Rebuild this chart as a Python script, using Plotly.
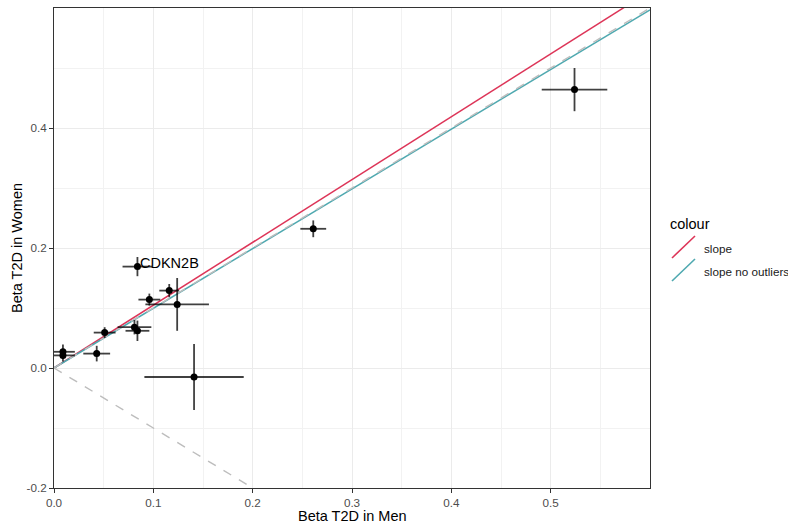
import plotly.graph_objects as go

# ---- data ----
beta_men = [0.524, 0.261, 0.084, 0.096, 0.116, 0.124, 0.051, 0.081, 0.084, 0.043, 0.009, 0.009, 0.141]
beta_women = [0.464, 0.232, 0.169, 0.114, 0.129, 0.106, 0.059, 0.068, 0.062, 0.024, 0.027, 0.021, -0.015]
se_men = [0.033, 0.013, 0.015, 0.011, 0.010, 0.032, 0.011, 0.017, 0.012, 0.0135, 0.012, 0.012, 0.050]
se_women = [0.036, 0.014, 0.016, 0.010, 0.011, 0.044, 0.009, 0.012, 0.017, 0.013, 0.012, 0.010, 0.055]
labels = ["", "", "CDKN2B", "", "", "", "", "", "", "", "", "", ""]

slope_names = ["slope", "slope no outliers"]
slope_values = [1.047, 0.995]
slope_colors = ["#DD3558", "#4FA9B0"]

x_range = [0.0, 0.6]
y_range = [-0.2, 0.6]
x_ticks = [0.0, 0.1, 0.2, 0.3, 0.4, 0.5]
y_ticks = [-0.2, 0.0, 0.2, 0.4]

FONT = "Liberation Sans, Arial, sans-serif"

fig = go.Figure()

# regression lines through origin
for name, s, c in zip(slope_names, slope_values, slope_colors):
    fig.add_trace(go.Scatter(
        x=x_range, y=[s * v for v in x_range], mode="lines",
        line=dict(color=c, width=1.5), name=name, showlegend=False, hoverinfo="skip"))

# reference lines y = x and y = -x
fig.add_trace(go.Scatter(x=x_range, y=[v for v in x_range], mode="lines",
                         line=dict(color="#BDBDBD", width=1.4, dash="dash"),
                         showlegend=False, hoverinfo="skip"))
fig.add_trace(go.Scatter(x=x_range, y=[-v for v in x_range], mode="lines",
                         line=dict(color="#BDBDBD", width=1.4, dash="dash"),
                         showlegend=False, hoverinfo="skip"))

# points with error bars
fig.add_trace(go.Scatter(
    x=beta_men, y=beta_women, mode="markers",
    marker=dict(color="black", size=7),
    error_x=dict(type="data", array=se_men, width=0, thickness=1.8, color="rgba(0,0,0,0.75)"),
    error_y=dict(type="data", array=se_women, width=0, thickness=1.8, color="rgba(0,0,0,0.75)"),
    showlegend=False))

annotations = []
for xv, yv, lab in zip(beta_men, beta_women, labels):
    if lab:
        annotations.append(dict(x=xv, y=yv, text=lab, showarrow=False, xanchor="left",
                                yanchor="middle", xshift=1, yshift=4,
                                font=dict(family=FONT, size=14.5, color="black")))

# custom legend (ggplot style, diagonal keys)
def px_to_paper(px, py):
    return (px - 54) / 596.0, (488 - py) / 480.0

tx, ty = px_to_paper(668, 224)
annotations.append(dict(xref="paper", yref="paper", x=tx, y=ty, text="colour", showarrow=False,
                        xanchor="left", yanchor="middle",
                        font=dict(family=FONT, size=14.5, color="black")))
shapes = []
for i, (name, c) in enumerate(zip(slope_names, slope_colors)):
    x0, y0 = px_to_paper(672, 258 + 23 * i)
    x1, y1 = px_to_paper(695, 236 + 23 * i)
    shapes.append(dict(type="line", xref="paper", yref="paper", x0=x0, y0=y0, x1=x1, y1=y1,
                       line=dict(color=c, width=1.6)))
    lx, ly = px_to_paper(702, 248 + 23 * i)
    annotations.append(dict(xref="paper", yref="paper", x=lx, y=ly, text=name, showarrow=False,
                            xanchor="left", yanchor="middle",
                            font=dict(family=FONT, size=11.7, color="#1a1a1a")))

# axis titles as paper annotations (ggplot positions)
ax_x, ax_y = px_to_paper(352, 525)
annotations.append(dict(xref="paper", yref="paper", x=ax_x, y=ax_y, text="Beta T2D in Men",
                        showarrow=False, xanchor="center", yanchor="bottom", borderpad=0,
                        font=dict(family=FONT, size=14.5, color="black")))
ay_x, ay_y = px_to_paper(17, 248)
annotations.append(dict(xref="paper", yref="paper", x=ay_x, y=ay_y, text="Beta T2D in Women",
                        showarrow=False, xanchor="center", yanchor="middle", textangle=-90,
                        font=dict(family=FONT, size=14.5, color="black")))

axis_common = dict(
    showgrid=True, gridcolor="#EBEBEB", gridwidth=1.1, automargin=False,
    zeroline=False, showline=True, linecolor="#333333", linewidth=1, mirror=True,
    ticks="outside", ticklen=4, tickcolor="#333333", tickwidth=1,
    tickfont=dict(family=FONT, size=11.7, color="#4D4D4D"),
)

fig.update_layout(
    width=788, height=525,
    margin=dict(l=54, r=138, t=8, b=37),
    paper_bgcolor="white", plot_bgcolor="white",
    font=dict(family=FONT),
    xaxis=dict(range=x_range, tickvals=x_ticks, ticktext=[f"{v:.1f}" for v in x_ticks],
               minor=dict(showgrid=True, dtick=0.05, tick0=0, gridcolor="#F2F2F2", gridwidth=0.6),
               **axis_common),
    yaxis=dict(range=y_range, tickvals=y_ticks, ticktext=[f"{v:.1f}" for v in y_ticks],
               minor=dict(showgrid=True, dtick=0.1, tick0=-0.1, gridcolor="#F2F2F2", gridwidth=0.6),
               **axis_common),
    annotations=annotations,
    shapes=shapes,
    showlegend=False,
)

fig.write_html("out.html", config={"displayModeBar": False},
               post_script="document.body.style.margin='0px';document.body.style.overflow='hidden';")
